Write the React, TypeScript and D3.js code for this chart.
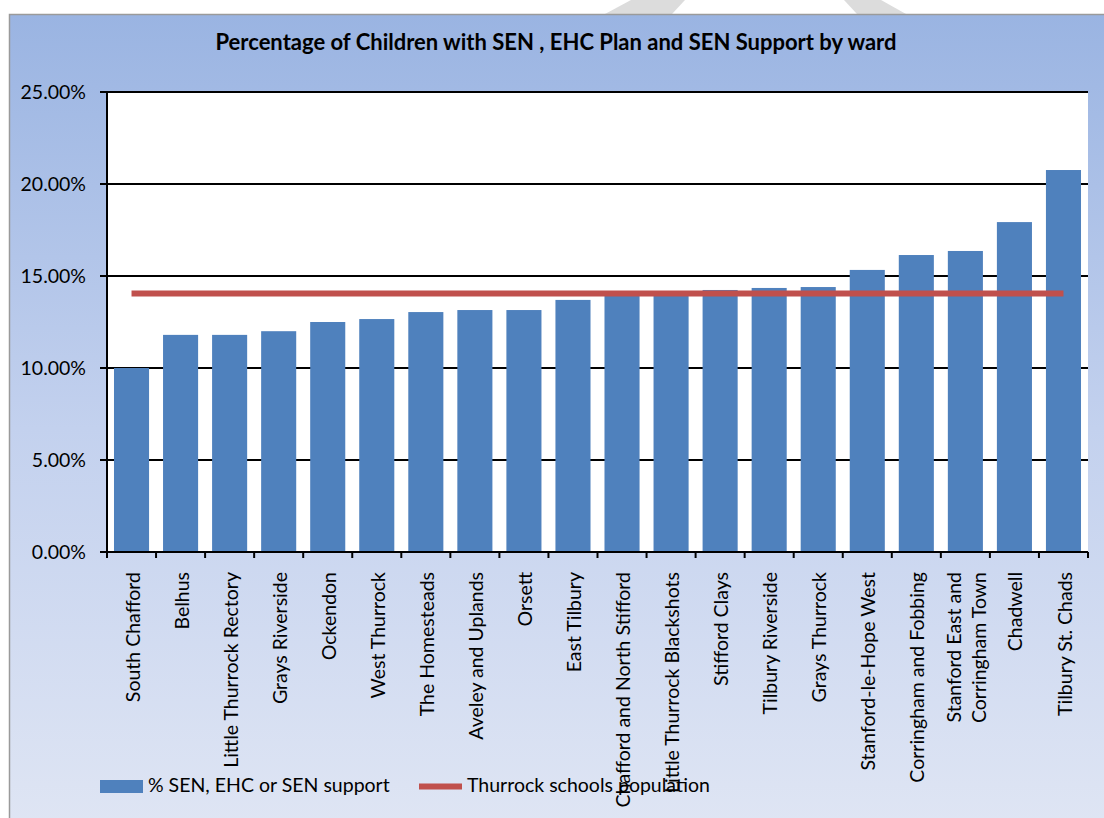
import React from "react";
import * as d3 from "d3";

const wards = [
  "South Chafford",
  "Belhus",
  "Little Thurrock Rectory",
  "Grays Riverside",
  "Ockendon",
  "West Thurrock",
  "The Homesteads",
  "Aveley and Uplands",
  "Orsett",
  "East Tilbury",
  "Chafford and North Stifford",
  "Little Thurrock Blackshots",
  "Stifford Clays",
  "Tilbury Riverside",
  "Grays Thurrock",
  "Stanford-le-Hope West",
  "Corringham and Fobbing",
  "Stanford East and\nCorringham Town",
  "Chadwell",
  "Tilbury St. Chads",
];
const senPct = [
  10.0, 11.8, 11.8, 12.0, 12.5, 12.66, 13.04, 13.15, 13.15, 13.7,
  14.0, 14.03, 14.24, 14.35, 14.4, 15.33, 16.14, 16.36, 17.93, 20.76,
];
const thurrockPct = 14.05;
const yTicks = [0, 5, 10, 15, 20, 25];
const seriesNames = ["% SEN, EHC or SEN support", "Thurrock schools population"];
const title = "Percentage of Children with SEN , EHC Plan and SEN Support by ward";

const W = 1104;
const H = 818;
const plot = { left: 107, right: 1088, top: 92, bottom: 552 };
const FONT = "Lato, 'Open Sans', sans-serif";

export default function App() {
  const x = d3
    .scaleBand<string>()
    .domain(wards)
    .range([plot.left, plot.right])
    .paddingInner(0.285)
    .paddingOuter(0.1425);
  const y = d3.scaleLinear().domain([0, 25]).range([plot.bottom, plot.top]);
  const step = x.step();
  const bw = x.bandwidth();
  const cx = (w: string) => (x(w) as number) + bw / 2;
  const line = d3
    .line<string>()
    .x((w) => cx(w))
    .y(() => y(thurrockPct));
  const lineWards = [wards[0], wards[wards.length - 1]];

  return (
    <svg
      width={W}
      height={H}
      style={{ position: "absolute", left: 0, top: 0 }}
      fontFamily={FONT}
    >
      <defs>
        <linearGradient id="bg" x1="0" y1="0" x2="0" y2="1">
          <stop offset="0" stopColor="#9ab4e2" />
          <stop offset="0.5" stopColor="#c3d1ee" />
          <stop offset="1" stopColor="#e0e6f4" />
        </linearGradient>
      </defs>
      <rect x={0} y={0} width={W} height={H} fill="#ffffff" />
      <polygon points="631,0 685,0 672,14 605,14" fill="#dcdcdc" />
      <polygon points="844,0 881,0 906,14 857,14" fill="#dcdcdc" />
      <rect
        x={9.5}
        y={14.5}
        width={W + 10}
        height={H + 10}
        fill="url(#bg)"
        stroke="#9a9a9a"
        strokeWidth={1.5}
      />
      <text
        x={556}
        y={50}
        textAnchor="middle"
        fontSize={22}
        fontWeight="bold"
        fill="#000"
      >
        {title}
      </text>
      <rect
        x={plot.left}
        y={plot.top}
        width={plot.right - plot.left}
        height={plot.bottom - plot.top}
        fill="#ffffff"
      />
      {yTicks.map((t) => (
        <g key={t}>
          {t > 0 && (
            <line
              x1={plot.left}
              x2={plot.right}
              y1={y(t)}
              y2={y(t)}
              stroke="#000"
              strokeWidth={2}
            />
          )}
          <line x1={plot.left - 7} x2={plot.left} y1={y(t)} y2={y(t)} stroke="#000" strokeWidth={2} />
          <text
            x={86}
            y={y(t)}
            dy="0.36em"
            textAnchor="end"
            fontSize={19.5}
            fill="#000"
          >
            {t.toFixed(2) + "%"}
          </text>
        </g>
      ))}
      {wards.map((w, i) => (
        <rect
          key={w}
          x={x(w)}
          y={y(senPct[i])}
          width={bw}
          height={y(0) - y(senPct[i])}
          fill="#4f81bd"
        />
      ))}
      <path d={line(lineWards) || ""} stroke="#c0504d" strokeWidth={6} fill="none" />
      <line x1={plot.left} x2={plot.left} y1={plot.top - 1} y2={plot.bottom + 6} stroke="#000" strokeWidth={2} />
      <line x1={plot.left - 7} x2={plot.right} y1={plot.bottom} y2={plot.bottom} stroke="#000" strokeWidth={2} />
      {wards.map((w, i) => (
        <line
          key={"t" + i}
          x1={plot.left + step * (i + 1)}
          x2={plot.left + step * (i + 1)}
          y1={plot.bottom}
          y2={plot.bottom + 6}
          stroke="#000"
          strokeWidth={2}
        />
      ))}
      {wards.map((w) => {
        const lines = w.split("\n");
        const n = lines.length;
        return (
          <text
            key={"l" + w}
            transform={`translate(${cx(w) + 1},572) rotate(-90)`}
            textAnchor="end"
            fontSize={19.5}
            fill="#000"
          >
            {lines.map((ln, k) => (
              <tspan key={k} x={0} y={(k - (n - 1) / 2) * 25} dy="0.36em">
                {ln}
              </tspan>
            ))}
          </text>
        );
      })}
      <rect x={100} y={780} width={43} height={13} fill="#4f81bd" />
      <text x={148} y={792} fontSize={19.5} fill="#000">
        {seriesNames[0]}
      </text>
      <line x1={419} x2={462} y1={786.5} y2={786.5} stroke="#c0504d" strokeWidth={6} />
      <text x={467} y={792} fontSize={19.5} fill="#000">
        {seriesNames[1]}
      </text>
    </svg>
  );
}
